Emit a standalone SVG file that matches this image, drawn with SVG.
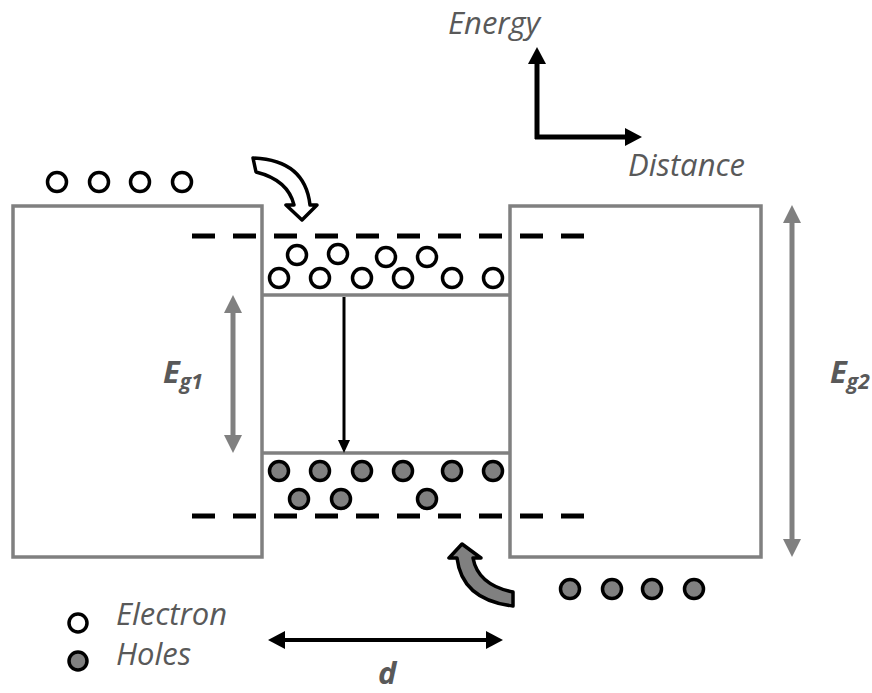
<svg xmlns="http://www.w3.org/2000/svg" width="872" height="693" viewBox="0 0 872 693">
<style>
.box{fill:none;stroke:#808080;stroke-width:3.5}
.dash{stroke:#000;stroke-width:5;stroke-dasharray:23 18;fill:none}
.el{fill:#fff;stroke:#000;stroke-width:3.5}
.ho{fill:#808080;stroke:#000;stroke-width:3.5}
.lbl{font-family:"Open Sans","Liberation Sans",sans-serif;font-style:italic;fill:#595959;font-size:31px}
.bl{font-weight:bold;font-size:31px}
.sub{font-weight:bold;font-size:21px}
.blk{stroke:#000;fill:none}
.gry{stroke:#808080;fill:none;stroke-width:5}
</style>
<rect width="872" height="693" fill="#fff"/>
<g id="left-barrier"><rect class="box" x="13" y="206" width="249" height="351"/></g>
<g id="right-barrier"><rect class="box" x="510" y="206" width="251" height="351"/></g>
<g id="well">
<line class="box" x1="262" y1="295" x2="510" y2="295"/>
<line class="box" x1="262" y1="453" x2="510" y2="453"/>
</g>
<g id="levels">
<line class="dash" x1="192" y1="236" x2="584" y2="236"/>
<line class="dash" x1="192" y1="516" x2="584" y2="516"/>
</g>
<g id="well-electrons">
<circle class="el" cx="297" cy="255" r="9.5"/><circle class="el" cx="338" cy="254" r="9.5"/><circle class="el" cx="386" cy="257" r="9.5"/><circle class="el" cx="427" cy="257" r="9.5"/>
<circle class="el" cx="279" cy="278" r="9.5"/><circle class="el" cx="320" cy="278" r="9.5"/><circle class="el" cx="362" cy="278" r="9.5"/><circle class="el" cx="403" cy="278" r="9.5"/><circle class="el" cx="452" cy="278" r="9.5"/><circle class="el" cx="493" cy="278" r="9.5"/>
</g>
<g id="well-holes">
<circle class="ho" cx="279" cy="471" r="9.5"/><circle class="ho" cx="320" cy="471" r="9.5"/><circle class="ho" cx="362" cy="471" r="9.5"/><circle class="ho" cx="403" cy="471" r="9.5"/><circle class="ho" cx="452" cy="471" r="9.5"/><circle class="ho" cx="493" cy="471" r="9.5"/>
<circle class="ho" cx="299" cy="499" r="9.5"/><circle class="ho" cx="341" cy="499" r="9.5"/><circle class="ho" cx="427" cy="499" r="9.5"/>
</g>
<g id="injected-electrons">
<circle class="el" cx="57" cy="182" r="9.5"/><circle class="el" cx="99" cy="182" r="9.5"/><circle class="el" cx="140" cy="182" r="9.5"/><circle class="el" cx="182" cy="182" r="9.5"/>
</g>
<g id="injected-holes">
<circle class="ho" cx="570" cy="589" r="9.5"/><circle class="ho" cx="612" cy="589" r="9.5"/><circle class="ho" cx="652" cy="589" r="9.5"/><circle class="ho" cx="694" cy="589" r="9.5"/>
</g>
<g id="connectors">
<path d="M253,158 Q305,160 310,205 L317,205 L302,220 L286,205 L294,205 Q288,180 256,172 Z" fill="#fff" stroke="#000" stroke-width="3.5" stroke-linejoin="round"/>
<path d="M513,592 Q478,585 473,558 L481,558 L462,544 L449,558 L457,558 Q462,600 513,606 Z" fill="#808080" stroke="#000" stroke-width="3.5" stroke-linejoin="round"/>
<line class="blk" x1="344" y1="297" x2="344" y2="442" stroke-width="3"/>
<polygon points="338,440 350,440 344,453" fill="#000"/>
<line class="gry" x1="233" y1="310" x2="233" y2="438"/>
<polygon points="224,313 242,313 233,295" fill="#808080"/>
<polygon points="224,435 242,435 233,453" fill="#808080"/>
<line class="gry" x1="792" y1="220" x2="792" y2="542"/>
<polygon points="783,223 801,223 792,205" fill="#808080"/>
<polygon points="783,539 801,539 792,557" fill="#808080"/>
<line class="blk" x1="283" y1="640" x2="488" y2="640" stroke-width="4"/>
<polygon points="285,631 285,649 268,640" fill="#000"/>
<polygon points="486,631 486,649 503,640" fill="#000"/>
<line class="blk" x1="537" y1="62" x2="537" y2="139" stroke-width="5"/>
<polygon points="528,64 546,64 537,47" fill="#000"/>
<line class="blk" x1="535" y1="137" x2="627" y2="137" stroke-width="5"/>
<polygon points="625,128 625,146 642,137" fill="#000"/>
</g>
<g id="labels">
<text class="lbl" x="448" y="34">Energy</text>
<text class="lbl" x="628" y="176">Distance</text>
<text class="lbl bl" x="163" y="383">E<tspan class="sub" dy="6">g1</tspan></text>
<text class="lbl bl" x="830" y="383">E<tspan class="sub" dy="6">g2</tspan></text>
<text class="lbl bl" x="378" y="684">d</text>
</g>
<g id="legend">
<circle class="el" cx="78" cy="623" r="9"/>
<circle class="ho" cx="78" cy="661" r="9"/>
<text class="lbl" x="116" y="625">Electron</text>
<text class="lbl" x="116" y="665">Holes</text>
</g>
</svg>
